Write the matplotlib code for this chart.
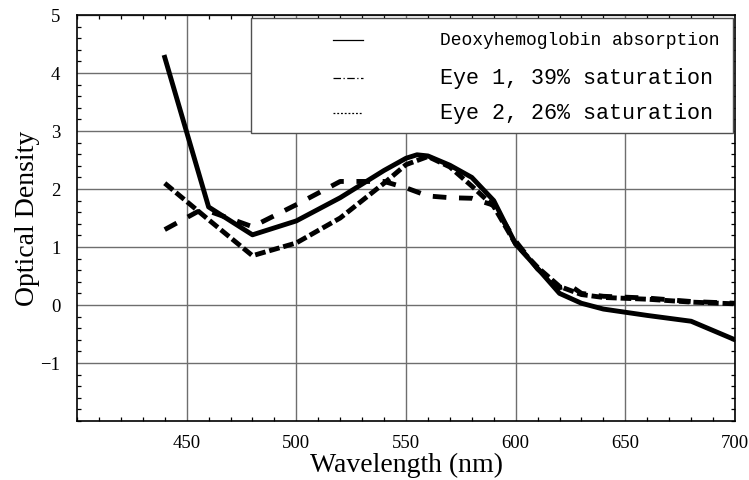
"""Optical density spectra: deoxyhemoglobin reference vs two eye measurements."""

import matplotlib

matplotlib.use("Agg")
import matplotlib.pyplot as plt
from matplotlib.patches import Rectangle

# ---------------------------------------------------------------------------
# Data
# ---------------------------------------------------------------------------
wl_deoxy = [440, 460, 480, 500, 520, 540, 550, 555, 560, 570, 580, 590,
            600, 610, 620, 630, 640, 660, 680, 700]
od_deoxy = [4.27, 1.69, 1.21, 1.45, 1.85, 2.32, 2.53, 2.59, 2.57, 2.41, 2.2,
            1.8, 1.05, 0.63, 0.2, 0.03, -0.07, -0.18, -0.28, -0.6]

wl_eye1 = [440, 460, 480, 500, 520, 540, 550, 560, 570, 580, 590,
           600, 610, 620, 630, 640, 660, 680, 700]
od_eye1 = [2.1, 1.47, 0.85, 1.07, 1.5, 2.1, 2.42, 2.56, 2.38, 2.05, 1.7,
           1.05, 0.65, 0.32, 0.18, 0.13, 0.1, 0.05, 0.02]

wl_eye2 = [440, 455, 460, 480, 500, 520, 540, 550, 560, 570, 580, 590,
           600, 610, 620, 625, 630, 640, 660, 680, 700]
od_eye2 = [1.3, 1.61, 1.62, 1.35, 1.73, 2.13, 2.13, 2.02, 1.88, 1.85, 1.84,
           1.72, 1.1, 0.62, 0.3, 0.33, 0.2, 0.15, 0.12, 0.06, 0.03]

legend_labels = ["Deoxyhemoglobin absorption",
                 "Eye 1, 39% saturation",
                 "Eye 2, 26% saturation"]

x_major = [450, 500, 550, 600, 650, 700]
y_major = [-1, 0, 1, 2, 3, 4, 5]

MONO = "Liberation Mono"
plt.rcParams["font.family"] = ["Liberation Serif", "DejaVu Serif"]
plt.rcParams["axes.unicode_minus"] = True

# ---------------------------------------------------------------------------
# Figure
# ---------------------------------------------------------------------------
fig = plt.figure(figsize=(7.49, 4.80), dpi=100)
ax = fig.add_axes([77 / 749, 1 - 421 / 480, 658 / 749, 406 / 480])

ax.plot(wl_deoxy, od_deoxy, color="black", lw=3.5, zorder=3)
ax.plot(wl_eye1, od_eye1, color="black", lw=3.5, dashes=(2.2, 0.8), zorder=3)
ax.plot(wl_eye2, od_eye2, color="black", lw=3.5, dashes=(2.8, 2.6), zorder=3)

ax.set_xlim(400, 700)
ax.set_ylim(-2, 5)
ax.set_xticks(x_major)
ax.set_xticks(range(400, 701, 10), minor=True)
ax.set_yticks(y_major)
ax.set_yticks([v / 5 for v in range(-10, 26)], minor=True)

ax.tick_params(which="major", length=0, labelsize=13.5)
ax.tick_params(axis="x", which="major", pad=10)
ax.tick_params(axis="y", which="major", pad=12)
ax.tick_params(which="minor", direction="in", length=3, width=0.9,
               top=True, right=True, color="black")
ax.grid(True, which="major", color="#6e6e6e", lw=1.0, zorder=1)
for sp in ax.spines.values():
    sp.set_linewidth(1.2)
    sp.set_color("black")

ax.set_xlabel("Wavelength (nm)", fontsize=20, labelpad=1)
ax.set_ylabel("Optical Density", fontsize=20, labelpad=0)

# --- legend box (drawn by hand to match the spacing of the original) -------
ax.add_patch(Rectangle((0.2644, 0.7094), 0.997 - 0.2644, 0.9926 - 0.7094,
                       transform=ax.transAxes, facecolor="white",
                       edgecolor="#505050", lw=1.0, zorder=5))
row_y = [0.9384, 0.8448, 0.7586]
handle_styles = ["-", (0, (6, 2, 1, 2)), (0, (1.5, 1.5))]
text_sizes = [13.0, 15.7, 15.7]
for yy, lab, ls, fs in zip(row_y, legend_labels, handle_styles, text_sizes):
    ax.plot([0.389, 0.4347], [yy, yy], transform=ax.transAxes, color="black",
            lw=0.9, linestyle=ls, zorder=6)
    ax.text(0.5517, yy, lab, transform=ax.transAxes, ha="left", va="center",
            fontfamily=MONO, fontsize=fs, zorder=6)

fig.savefig("out.png", dpi=100, facecolor="white")
plt.close(fig)
